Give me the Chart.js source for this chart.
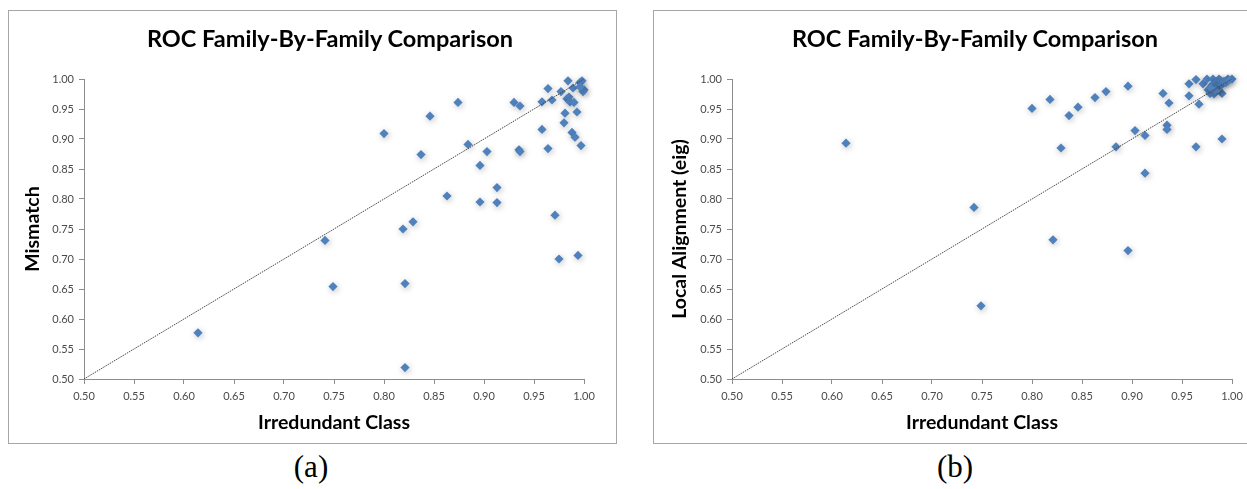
<!DOCTYPE html>
<html>
<head>
<meta charset="utf-8">
<script src="https://cdn.jsdelivr.net/npm/chart.js@4.4.1/dist/chart.umd.min.js"></script>
<style>
  html, body { margin: 0; padding: 0; background: #ffffff; overflow: hidden; }
  body { width: 1247px; height: 489px; position: relative; }
  .box { position: absolute; top: 10px; width: 609px; height: 434px; border: 1.5px solid #a6a6a6; box-sizing: border-box; background: #fff; }
  .box canvas { position: absolute; left: 0; top: 0; }
  .ttl { position: absolute; top: 24px; font: bold 23.5px Lato, "Open Sans", sans-serif; color: #000; white-space: nowrap; transform: translateX(-50%); }
  .cap { position: absolute; top: 449px; font: 31px "Liberation Serif", "DejaVu Serif", serif; color: #000; transform: translateX(-50%); }
</style>
</head>
<body>
<div class="box" id="boxA" style="left:8px;"><canvas id="cA" width="606" height="431"></canvas></div>
<div class="box" id="boxB" style="left:653px;"><canvas id="cB" width="606" height="431"></canvas></div>
<div class="ttl" style="left:330px;">ROC Family-By-Family Comparison</div>
<div class="ttl" style="left:975px;">ROC Family-By-Family Comparison</div>
<div class="cap" style="left:311px;">(a)</div>
<div class="cap" style="left:955px;">(b)</div>
<script>
// ---- Data: Chart (a) ----
const aIrredundant = [0.614,0.741,0.749,0.800,0.819,0.829,0.821,0.821,0.837,0.846,0.863,0.874,0.884,0.896,0.896,0.903,0.913,0.913,0.930,0.936,0.935,0.936,0.958,0.958,0.964,0.968,0.964,0.971,0.975,0.977,0.981,0.980,0.984,0.983,0.985,0.986,0.989,0.990,0.988,0.991,0.993,0.994,0.997,0.996,0.998,1.000,0.999,0.996];
const aMismatch    = [0.577,0.731,0.654,0.909,0.750,0.762,0.659,0.519,0.874,0.938,0.805,0.961,0.891,0.856,0.795,0.879,0.819,0.794,0.961,0.955,0.882,0.879,0.962,0.916,0.984,0.965,0.884,0.773,0.700,0.979,0.943,0.927,0.997,0.967,0.970,0.962,0.985,0.961,0.911,0.903,0.945,0.706,0.889,0.994,0.997,0.982,0.979,0.987];
// ---- Data: Chart (b) ----
const bIrredundant = [0.614,0.742,0.749,0.800,0.818,0.821,0.829,0.837,0.846,0.863,0.874,0.884,0.896,0.896,0.903,0.913,0.913,0.931,0.937,0.935,0.935,0.957,0.964,0.957,0.967,0.964,0.971,0.975,0.990,0.990,0.981,0.987,0.996,1.000,0.976,0.978,0.980,0.982,0.984,0.985,0.987,0.989,0.990,0.992,0.994,0.997,0.983,0.979];
const bLocalAlign  = [0.893,0.786,0.622,0.951,0.966,0.732,0.885,0.939,0.953,0.969,0.979,0.887,0.988,0.714,0.914,0.906,0.843,0.976,0.960,0.923,0.916,0.992,0.999,0.972,0.958,0.887,0.992,1.000,0.976,0.900,1.000,1.000,1.000,1.000,0.982,0.976,0.990,0.975,0.993,0.984,0.990,0.997,0.991,0.996,0.994,0.998,0.981,0.985];
// ---- Axis settings ----
const axisMin = 0.5, axisMax = 1.0, axisStep = 0.05;
const diagonal = [0.5, 1.0];
const xTitle = 'Irredundant Class';
const yTitleA = 'Mismatch';
const yTitleB = 'Local Alignment (eig)';

const shadowPlugin = {
  id: 'pointShadow',
  beforeDatasetDraw(chart, args) {
    if (args.index !== 1) return;
    const ctx = chart.ctx;
    ctx.save();
    ctx.shadowColor = 'rgba(0,0,0,0.28)';
    ctx.shadowBlur = 6;
    ctx.shadowOffsetX = 1;
    ctx.shadowOffsetY = 1.5;
  },
  afterDatasetDraw(chart, args) {
    if (args.index !== 1) return;
    chart.ctx.restore();
  }
};

function makeChart(id, xs, ys, yTitle, yWidth, yTitlePad, rightPad) {
  const pts = xs.map((x, i) => ({x: x, y: ys[i]}));
  const tickFont = {family: 'Lato, "Open Sans", sans-serif', size: 11};
  const titleFont = {family: 'Lato, "Open Sans", sans-serif', size: 19.5, weight: 'bold'};
  return new Chart(document.getElementById(id), {
    type: 'scatter',
    data: {
      datasets: [
        {
          type: 'line',
          data: diagonal.map(v => ({x: v, y: v})),
          borderColor: '#444444',
          borderWidth: 1,
          borderDash: [1.5, 1],
          pointRadius: 0,
          fill: false
        },
        {
          data: pts,
          clip: false,
          pointStyle: 'rectRot',
          pointRadius: 4.6,
          pointHoverRadius: 4.6,
          backgroundColor: '#4F81BD',
          borderColor: '#4F81BD',
          borderWidth: 0
        }
      ]
    },
    options: {
      responsive: false,
      animation: false,
      events: [],
      layout: { padding: { top: 68, right: rightPad, bottom: 0, left: 0 } },
      plugins: { legend: { display: false }, tooltip: { enabled: false }, title: { display: false } },
      scales: {
        x: {
          type: 'linear', min: axisMin, max: axisMax,
          ticks: { stepSize: axisStep, font: tickFont, color: '#4a4a4a', padding: 6, maxRotation: 0,
                   callback: v => v.toFixed(2) },
          grid: { display: true, drawOnChartArea: false, drawTicks: true, tickLength: 5, color: '#8c8c8c' },
          border: { display: true, color: '#8c8c8c', width: 1 },
          title: { display: true, text: xTitle, font: titleFont, color: '#000', padding: { top: 0, bottom: 8 } },
          afterFit: s => { s.height = 63; }
        },
        y: {
          type: 'linear', min: axisMin, max: axisMax,
          ticks: { stepSize: axisStep, font: tickFont, color: '#4a4a4a', padding: 5,
                   callback: v => v.toFixed(2) },
          grid: { display: true, drawOnChartArea: false, drawTicks: true, tickLength: 5, color: '#8c8c8c' },
          border: { display: true, color: '#8c8c8c', width: 1 },
          title: { display: true, text: yTitle, font: titleFont, color: '#000', padding: { top: yTitlePad, bottom: 0 } },
          afterFit: s => { s.width = yWidth; }
        }
      }
    },
    plugins: [shadowPlugin]
  });
}

makeChart('cA', aIrredundant, aMismatch, yTitleA, 75, 12, 31);
makeChart('cB', bIrredundant, bLocalAlign, yTitleB, 78, 14, 28);
</script>
</body>
</html>
